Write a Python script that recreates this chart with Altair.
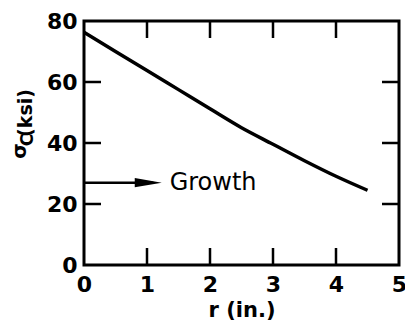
import altair as alt
import pandas as pd

# Radial stress along the radius
r_in = [0.0, 0.5, 1.0, 1.5, 2.0, 2.5, 3.0, 3.5, 4.0, 4.5]
sigma_ksi = [76.3, 70.0, 63.8, 57.5, 51.2, 45.0, 39.6, 34.2, 29.1, 24.5]

# Axis tick values
x_ticks = [0, 1, 2, 3, 4, 5]
y_ticks = [0, 20, 40, 60, 80]
x_inner = [1, 2, 3, 4]
y_inner = [20, 40, 60]

# "Growth" arrow annotation
arrow_r = [0.0, 1.1]
arrow_sigma = 27
arrow_head_r = 1.02
label_r = 1.36

W, H = 315, 244
FONT = "DejaVu Sans"
WEIGHT = "bold"
TICK = 17

xs = alt.Scale(domain=[0, 5], nice=False, zero=False)
ys = alt.Scale(domain=[0, 80], nice=False, zero=False)

curve_df = pd.DataFrame({"r": r_in, "s": sigma_ksi})
curve = alt.Chart(curve_df).mark_line(
    color="black", strokeWidth=3.5, interpolate="monotone").encode(
    x=alt.X("r:Q", scale=xs,
            axis=alt.Axis(values=x_ticks, format="d", ticks=False, tickSize=0,
                          domain=False, grid=False,
                          labelFont=FONT, labelFontSize=22, labelFontWeight=WEIGHT,
                          labelColor="black", labelPadding=9, labelFlush=False,
                          labelOverlap=False,
                          title="r (in.)", titleFont=FONT, titleFontSize=21,
                          titleFontWeight=WEIGHT, titleColor="black", titlePadding=4)),
    y=alt.Y("s:Q", scale=ys,
            axis=alt.Axis(values=y_ticks, format="d", ticks=False, tickSize=0,
                          domain=False, grid=False,
                          labelFont=FONT, labelFontSize=22, labelFontWeight=WEIGHT,
                          labelColor="black", labelPadding=7, labelFlush=False,
                          labelOverlap=False, title=None)),
)

# Inward ticks on all four sides
xt_df = pd.DataFrame({"r": x_inner})
yt_df = pd.DataFrame({"s": y_inner})
tick_style = dict(color="black", strokeWidth=2.5)
bottom_ticks = alt.Chart(xt_df).mark_rule(**tick_style).encode(
    x=alt.X("r:Q", scale=xs), y=alt.value(H), y2=alt.value(H - TICK))
top_ticks = alt.Chart(xt_df).mark_rule(**tick_style).encode(
    x=alt.X("r:Q", scale=xs), y=alt.value(0), y2=alt.value(TICK))
left_ticks = alt.Chart(yt_df).mark_rule(**tick_style).encode(
    y=alt.Y("s:Q", scale=ys), x=alt.value(0), x2=alt.value(TICK))
right_ticks = alt.Chart(yt_df).mark_rule(**tick_style).encode(
    y=alt.Y("s:Q", scale=ys), x=alt.value(W - TICK), x2=alt.value(W))

# Arrow shaft, head and label
shaft_df = pd.DataFrame({"r": [arrow_r[0]], "r2": [arrow_r[1]], "s": [arrow_sigma]})
shaft = alt.Chart(shaft_df).mark_rule(color="black", strokeWidth=2.5).encode(
    x=alt.X("r:Q", scale=xs), x2="r2:Q", y=alt.Y("s:Q", scale=ys))
head_df = pd.DataFrame({"r": [arrow_head_r], "s": [arrow_sigma]})
head = alt.Chart(head_df).mark_point(
    shape="M-1,-0.34L1,0L-1,0.34Z", filled=True, color="black", opacity=1,
    size=729, strokeWidth=0).encode(
    x=alt.X("r:Q", scale=xs), y=alt.Y("s:Q", scale=ys))
label_df = pd.DataFrame({"r": [label_r], "s": [arrow_sigma], "t": ["Growth"]})
label = alt.Chart(label_df).mark_text(
    align="left", baseline="middle", font=FONT, fontSize=24, fontWeight="normal",
    color="black").encode(
    x=alt.X("r:Q", scale=xs), y=alt.Y("s:Q", scale=ys), text="t:N")

# Rotated y title: sigma with subscript C, then units
title_parts = [
    ("σ", -58, 130, 20),
    ("C", -51, 119, 17),
    ("(ksi)", -52, 92, 19),
]
title_layers = []
for txt, px, py, fs in title_parts:
    title_layers.append(
        alt.Chart(pd.DataFrame({"t": [txt]})).mark_text(
            angle=270, align="center", baseline="alphabetic",
            font=FONT, fontSize=fs, fontWeight=WEIGHT, color="black").encode(
            x=alt.value(px), y=alt.value(py), text="t:N"))

chart = alt.layer(
    curve, bottom_ticks, top_ticks, left_ticks, right_ticks, shaft, head, label,
    *title_layers,
).properties(
    width=W, height=H,
    background="white",
    autosize=alt.AutoSizeParams(type="none"),
    padding={"left": 84, "top": 21, "right": 6, "bottom": 65},
).configure_view(
    stroke="black", strokeWidth=3,
)

chart.save("out.html", embed_options={"renderer": "svg", "actions": False})
